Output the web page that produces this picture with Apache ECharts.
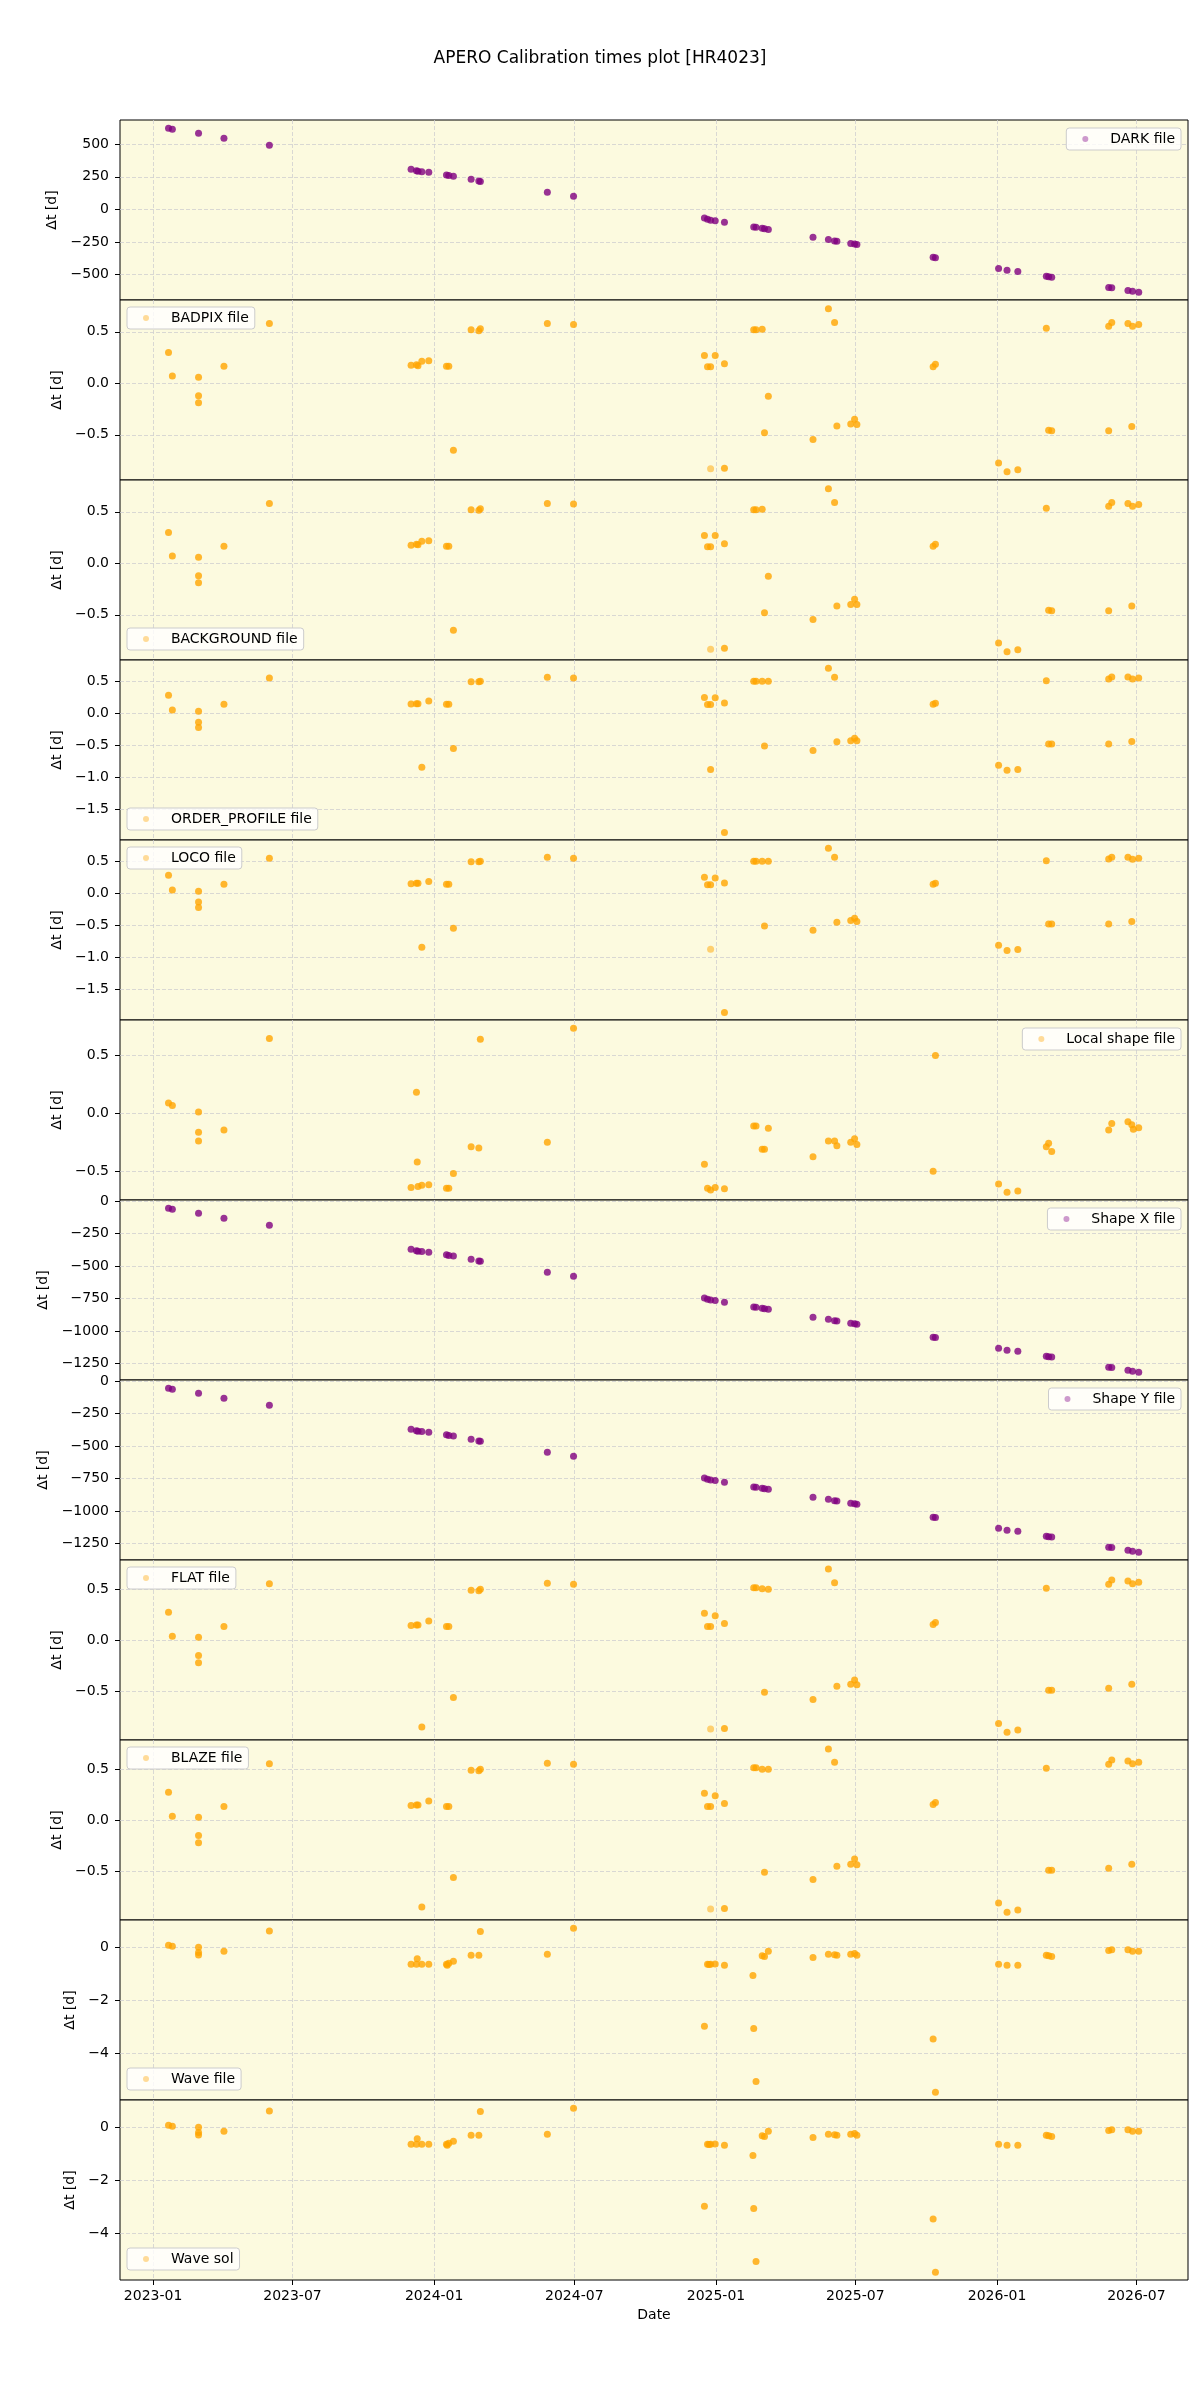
<!DOCTYPE html>
<html>
<head>
<meta charset="utf-8">
<script src="https://cdn.jsdelivr.net/npm/echarts@6/dist/echarts.min.js"></script>
<style>
html,body{margin:0;padding:0;background:#fff;}
#main{width:1200px;height:2400px;}
</style>
</head>
<body>
<div id="main"></div>
<script>
// x axis
var xTickDates = ['2023-01-01','2023-07-01','2024-01-01','2024-07-01','2025-01-01','2025-07-01','2026-01-01','2026-07-01'];
var xMinDate = '2022-11-19';
var xMaxDate = '2026-09-06';

// y ticks
var ticksDark = [-500, -250, 0, 250, 500];
var ticksHalf = [-0.5, 0, 0.5];
var ticksDeep = [-1.5, -1, -0.5, 0, 0.5];
var ticksShape = [-1250, -1000, -750, -500, -250, 0];
var ticksWave = [-4, -2, 0];

// DARK / Shape X / Shape Y epochs
var darkDates = ['2023-01-21','2023-01-26','2023-03-01','2023-04-03','2023-06-01','2023-12-02','2023-12-09','2023-12-11','2023-12-16','2023-12-25',
	'2024-01-17','2024-01-20','2024-01-26','2024-02-18','2024-02-28','2024-03-01','2024-05-27','2024-06-30','2024-12-17','2024-12-21',
	'2024-12-25','2024-12-31','2025-01-12','2025-02-19','2025-02-22','2025-03-02','2025-03-05','2025-03-10','2025-05-07','2025-05-27',
	'2025-06-04','2025-06-07','2025-06-25','2025-06-30','2025-07-03','2025-10-10','2025-10-13','2026-01-03','2026-01-14','2026-01-28',
	'2026-03-06','2026-03-09','2026-03-13','2026-05-26','2026-05-30','2026-06-20','2026-06-26','2026-07-04'];
var darkVals = [623,615,585,546,492,308,297,293,290,285,
	265,260,255,231,218,215,131,100,-67,-77,
	-83,-87,-100,-136,-138,-146,-150,-154,-215,-231,
	-243,-245,-262,-266,-270,-369,-372,-454,-469,-477,
	-515,-519,-522,-600,-602,-623,-630,-638];
var shapeXVals = [-56,-64,-94,-133,-187,-371,-382,-386,-389,-394,
	-414,-419,-424,-448,-461,-464,-548,-579,-746,-756,
	-762,-766,-779,-815,-817,-825,-829,-833,-894,-910,
	-922,-924,-941,-945,-949,-1048,-1051,-1133,-1148,-1156,
	-1194,-1198,-1201,-1279,-1281,-1302,-1309,-1317];
var shapeYVals = [-56,-64,-94,-133,-187,-371,-382,-386,-389,-394,
	-414,-419,-424,-448,-461,-464,-548,-579,-746,-756,
	-762,-766,-779,-815,-817,-825,-829,-833,-894,-910,
	-922,-924,-941,-945,-949,-1048,-1051,-1133,-1148,-1156,
	-1194,-1198,-1201,-1279,-1281,-1302,-1309,-1317];

// BADPIX / BACKGROUND / ORDER_PROFILE / LOCO / FLAT / BLAZE epochs
var calibDates = ['2023-01-21','2023-01-26','2023-03-01','2023-03-01','2023-03-01','2023-04-03','2023-06-01','2023-12-02','2023-12-09','2023-12-11',
	'2023-12-16','2023-12-25','2024-01-17','2024-01-20','2024-01-26','2024-02-18','2024-02-28','2024-03-01','2024-05-27','2024-06-30',
	'2024-12-17','2024-12-21','2024-12-25','2024-12-25','2024-12-31','2025-01-12','2025-01-12','2025-02-19','2025-02-22','2025-03-02',
	'2025-03-05','2025-03-10','2025-05-07','2025-05-27','2025-06-04','2025-06-07','2025-06-25','2025-06-30','2025-07-03','2025-10-10',
	'2025-10-13','2026-01-03','2026-01-14','2026-01-28','2026-03-06','2026-03-09','2026-03-13','2026-05-26','2026-05-26','2026-05-30',
	'2026-06-20','2026-06-26','2026-06-25','2026-07-04'];
var badpixVals = [0.30,0.07,0.06,-0.12,-0.19,0.165,0.58,0.175,0.18,0.17,
	0.215,0.22,0.165,0.165,-0.65,0.52,0.51,0.53,0.58,0.57,
	0.27,0.16,0.16,-0.83,0.27,0.19,-0.825,0.52,0.52,0.525,
	-0.48,-0.125,-0.545,0.725,0.59,-0.415,-0.395,-0.35,-0.40,0.16,
	0.185,-0.775,-0.86,-0.84,0.535,-0.455,-0.46,-0.46,0.555,0.59,
	0.58,0.555,-0.42,0.57];
var backgroundVals = [0.30,0.07,0.06,-0.12,-0.19,0.165,0.58,0.175,0.185,0.18,
	0.215,0.22,0.165,0.165,-0.65,0.52,0.515,0.53,0.58,0.575,
	0.27,0.16,0.16,-0.835,0.27,0.19,-0.825,0.52,0.52,0.525,
	-0.48,-0.125,-0.545,0.725,0.59,-0.415,-0.40,-0.35,-0.40,0.165,
	0.185,-0.775,-0.86,-0.84,0.535,-0.455,-0.46,-0.46,0.555,0.59,
	0.58,0.555,-0.415,0.57];
var orderProfileVals = [0.28,0.05,0.03,-0.14,-0.22,0.14,0.55,0.145,0.15,0.15,
	-0.84,0.19,0.14,0.14,-0.55,0.49,0.49,0.50,0.56,0.55,
	0.245,0.135,0.135,-0.875,0.24,0.16,-1.86,0.50,0.50,0.50,
	-0.51,0.50,-0.58,0.70,0.56,-0.445,-0.43,-0.39,-0.43,0.14,
	0.155,-0.81,-0.89,-0.875,0.505,-0.48,-0.48,-0.48,0.535,0.565,
	0.565,0.535,-0.44,0.55];
var locoVals = [0.28,0.05,0.03,-0.135,-0.22,0.14,0.545,0.15,0.155,0.155,
	-0.84,0.185,0.14,0.14,-0.545,0.49,0.49,0.50,0.56,0.545,
	0.25,0.135,0.135,-0.87,0.24,0.16,-1.855,0.50,0.50,0.50,
	-0.51,0.50,-0.575,0.70,0.56,-0.45,-0.425,-0.39,-0.44,0.14,
	0.155,-0.81,-0.89,-0.875,0.505,-0.48,-0.48,-0.48,0.535,0.56,
	0.56,0.53,-0.44,0.545];
var flatVals = [0.275,0.04,0.03,-0.15,-0.22,0.135,0.555,0.145,0.15,0.15,
	-0.85,0.19,0.135,0.135,-0.56,0.49,0.485,0.50,0.56,0.55,
	0.265,0.135,0.135,-0.87,0.24,0.165,-0.865,0.515,0.515,0.505,
	-0.51,0.50,-0.58,0.70,0.565,-0.45,-0.43,-0.39,-0.435,0.155,
	0.175,-0.815,-0.90,-0.88,0.51,-0.49,-0.49,-0.47,0.55,0.59,
	0.58,0.555,-0.43,0.57];
var blazeVals = [0.275,0.04,0.03,-0.15,-0.22,0.135,0.555,0.145,0.15,0.15,
	-0.85,0.19,0.135,0.135,-0.56,0.49,0.485,0.50,0.56,0.55,
	0.265,0.135,0.135,-0.87,0.24,0.165,-0.865,0.515,0.515,0.50,
	-0.51,0.50,-0.58,0.70,0.57,-0.45,-0.43,-0.38,-0.435,0.155,
	0.175,-0.81,-0.90,-0.88,0.51,-0.49,-0.49,-0.47,0.55,0.59,
	0.58,0.555,-0.43,0.57];

// Local shape
var localShapeDates = ['2023-01-21','2023-01-26','2023-03-01','2023-03-01','2023-03-01','2023-04-03','2023-06-01','2023-12-02','2023-12-09','2023-12-10',
	'2023-12-11','2023-12-16','2023-12-25','2024-01-17','2024-01-20','2024-01-26','2024-02-18','2024-02-28','2024-03-01','2024-05-27',
	'2024-06-30','2024-12-17','2024-12-21','2024-12-25','2024-12-31','2025-01-12','2025-02-19','2025-02-22','2025-03-02','2025-03-05',
	'2025-03-10','2025-05-07','2025-05-27','2025-06-04','2025-06-07','2025-06-25','2025-06-30','2025-07-03','2025-10-10','2025-10-13',
	'2026-01-03','2026-01-14','2026-01-28','2026-03-06','2026-03-09','2026-03-13','2026-05-26','2026-05-30','2026-06-20','2026-06-25',
	'2026-06-27','2026-07-04'];
var localShapeVals = [0.086,0.066,0.01,-0.165,-0.24,-0.145,0.64,-0.64,0.18,-0.42,
	-0.63,-0.62,-0.615,-0.645,-0.645,-0.52,-0.29,-0.30,0.635,-0.25,
	0.73,-0.44,-0.645,-0.66,-0.64,-0.65,-0.11,-0.11,-0.31,-0.31,
	-0.13,-0.375,-0.24,-0.24,-0.28,-0.25,-0.22,-0.27,-0.50,0.495,
	-0.61,-0.68,-0.67,-0.29,-0.26,-0.33,-0.145,-0.09,-0.075,-0.10,
	-0.14,-0.125];

// Wave file / Wave sol
var waveDates = ['2023-01-21','2023-01-26','2023-03-01','2023-03-01','2023-03-01','2023-04-03','2023-06-01','2023-12-02','2023-12-09','2023-12-10',
	'2023-12-16','2023-12-25','2024-01-17','2024-01-18','2024-01-20','2024-01-26','2024-02-18','2024-02-28','2024-03-01','2024-05-27',
	'2024-06-30','2024-12-17','2024-12-21','2024-12-23','2024-12-25','2024-12-31','2025-01-12','2025-02-18','2025-02-19','2025-02-22',
	'2025-03-02','2025-03-05','2025-03-10','2025-05-07','2025-05-27','2025-06-04','2025-06-07','2025-06-25','2025-06-30','2025-07-03',
	'2025-10-10','2025-10-13','2026-01-03','2026-01-14','2026-01-28','2026-03-06','2026-03-09','2026-03-13','2026-05-26','2026-05-30',
	'2026-06-20','2026-06-26','2026-07-04'];
var waveFileVals = [0.075,0.04,0.0,-0.20,-0.29,-0.15,0.615,-0.64,-0.64,-0.43,
	-0.64,-0.64,-0.64,-0.68,-0.60,-0.53,-0.30,-0.30,0.60,-0.265,
	0.72,-2.98,-0.64,-0.65,-0.64,-0.63,-0.68,-1.06,-3.06,-5.06,
	-0.32,-0.35,-0.15,-0.38,-0.265,-0.28,-0.30,-0.265,-0.23,-0.30,
	-3.46,-5.47,-0.64,-0.68,-0.68,-0.30,-0.32,-0.35,-0.12,-0.09,
	-0.09,-0.15,-0.15];
var waveSolVals = [0.075,0.04,0.0,-0.20,-0.29,-0.15,0.615,-0.64,-0.64,-0.43,
	-0.64,-0.64,-0.64,-0.68,-0.60,-0.53,-0.30,-0.30,0.60,-0.265,
	0.72,-2.98,-0.64,-0.65,-0.64,-0.63,-0.68,-1.06,-3.06,-5.06,
	-0.32,-0.35,-0.15,-0.38,-0.265,-0.28,-0.30,-0.265,-0.23,-0.30,
	-3.46,-5.47,-0.64,-0.68,-0.68,-0.30,-0.32,-0.35,-0.12,-0.09,
	-0.09,-0.15,-0.15];

var PURPLE = '#800080', ORANGE = '#ffa500';
var panels = [
	{name:'DARK file', dates:darkDates, vals:darkVals, color:PURPLE, min:-697, max:687, ticks:ticksDark, dec:0, leg:'ur', gap:51},
	{name:'BADPIX file', dates:calibDates, vals:badpixVals, color:ORANGE, min:-0.939, max:0.809, ticks:ticksHalf, dec:1, leg:'ul', gap:49, faint:23},
	{name:'BACKGROUND file', dates:calibDates, vals:backgroundVals, color:ORANGE, min:-0.939, max:0.809, ticks:ticksHalf, dec:1, leg:'ll', gap:49, faint:23},
	{name:'ORDER_PROFILE file', dates:calibDates, vals:orderProfileVals, color:ORANGE, min:-1.975, max:0.83, ticks:ticksDeep, dec:1, leg:'ll', gap:49},
	{name:'LOCO file', dates:calibDates, vals:locoVals, color:ORANGE, min:-1.973, max:0.83, ticks:ticksDeep, dec:1, leg:'ul', gap:49, faint:23},
	{name:'Local shape file', dates:localShapeDates, vals:localShapeVals, color:ORANGE, min:-0.747, max:0.80, ticks:ticksHalf, dec:1, leg:'ur', gap:49},
	{name:'Shape X file', dates:darkDates, vals:shapeXVals, color:PURPLE, min:-1377, max:7.7, ticks:ticksShape, dec:0, leg:'ur', gap:60},
	{name:'Shape Y file', dates:darkDates, vals:shapeYVals, color:PURPLE, min:-1377, max:7.7, ticks:ticksShape, dec:0, leg:'ur', gap:60},
	{name:'FLAT file', dates:calibDates, vals:flatVals, color:ORANGE, min:-0.977, max:0.787, ticks:ticksHalf, dec:1, leg:'ul', gap:49, faint:23},
	{name:'BLAZE file', dates:calibDates, vals:blazeVals, color:ORANGE, min:-0.977, max:0.787, ticks:ticksHalf, dec:1, leg:'ul', gap:49, faint:23},
	{name:'Wave file', dates:waveDates, vals:waveFileVals, color:ORANGE, min:-5.76, max:1.03, ticks:ticksWave, dec:0, leg:'ll', gap:35},
	{name:'Wave sol', dates:waveDates, vals:waveSolVals, color:ORANGE, min:-5.76, max:1.03, ticks:ticksWave, dec:0, leg:'ll', gap:35}
];

var FONT = 'DejaVu Sans';
var TOP0 = 120, PH = 180, LEFT = 120, RIGHT = 12;
var xTicks = xTickDates.map(function(d){ return Date.parse(d); });

function numFmt(dec){
	return function(v){ return v.toFixed(dec).replace('-', '\u2212'); };
}
function dateFmt(v){
	var d = new Date(v);
	var m = d.getUTCMonth() + 1;
	return d.getUTCFullYear() + '-' + (m < 10 ? '0' + m : m);
}

var grids = [], xAxes = [], yAxes = [], series = [], legends = [];
var splitStyle = {color:'#cfcfcf', width:0.8, type:[4, 2]};
var last = panels.length - 1;

panels.forEach(function(p, i){
	var top = TOP0 + PH * i;
	grids.push({
		left: LEFT, right: RIGHT, top: top, height: PH,
		show: true, backgroundColor: '#fcfadf', borderColor: '#000', borderWidth: 1
	});
	xAxes.push({
		type: 'value', gridIndex: i,
		min: Date.parse(xMinDate), max: Date.parse(xMaxDate),
		axisLine: {show: false, onZero: false},
		axisTick: {show: i === last, customValues: xTicks, inside: false, length: 5, lineStyle: {color:'#000'}},
		axisLabel: {show: i === last, customValues: xTicks, formatter: dateFmt, margin: 9,
			color: '#000', fontSize: 14, fontFamily: FONT},
		splitLine: {show: true, lineStyle: splitStyle},
		name: i === last ? 'Date' : '',
		nameLocation: 'middle', nameGap: 28,
		nameTextStyle: {color:'#000', fontSize: 14, fontFamily: FONT}
	});
	yAxes.push({
		type: 'value', gridIndex: i, min: p.min, max: p.max,
		axisLine: {show: false, onZero: false},
		axisTick: {show: true, customValues: p.ticks, inside: false, length: 5, lineStyle: {color:'#000'}},
		axisLabel: {customValues: p.ticks, formatter: numFmt(p.dec), margin: 11,
			color: '#000', fontSize: 14, fontFamily: FONT},
		splitLine: {show: true, lineStyle: splitStyle},
		name: '\u0394t [d]', nameLocation: 'middle', nameGap: p.gap,
		nameTextStyle: {color:'#000', fontSize: 14, fontFamily: FONT}
	});
	var data = p.dates.map(function(d, k){
		var item = {value: [Date.parse(d), p.vals[k]]};
		if (p.faint === k) item.itemStyle = {opacity: 0.5};
		return item;
	});
	series.push({
		name: p.name, type: 'scatter', xAxisIndex: i, yAxisIndex: i,
		symbolSize: 7, itemStyle: {color: p.color},
		emphasis: {disabled: true},
		data: data
	});
	var leg = {
		data: [p.name], orient: 'vertical', icon: 'circle',
		itemWidth: 22, itemHeight: 6, padding: [4, 6, 4, 16],
		formatter: function(name){ return '  ' + name; },
		backgroundColor: 'rgba(255,255,255,0.8)', borderColor: '#cccccc', borderWidth: 1, borderRadius: 3,
		itemStyle: {color: p.color === PURPLE ? '#c080c0' : '#ffd280'},
		textStyle: {color:'#000', fontSize: 14, fontFamily: FONT},
		selectedMode: false
	};
	if (p.leg === 'ur') { leg.right = 19; leg.top = top + 8; }
	else if (p.leg === 'ul') { leg.left = 127; leg.top = top + 7; }
	else { leg.left = 127; leg.top = top + PH - 7 - 25; }
	legends.push(leg);
});

var chart = echarts.init(document.getElementById('main'), null, {renderer: 'canvas'});
chart.setOption({
	animation: false,
	backgroundColor: '#ffffff',
	title: {
		text: 'APERO Calibration times plot [HR4023]',
		left: 'center', top: 45,
		textStyle: {color:'#000', fontSize: 17, fontWeight: 'normal', fontFamily: FONT}
	},
	legend: legends,
	grid: grids,
	xAxis: xAxes,
	yAxis: yAxes,
	series: series
});
</script>
</body>
</html>
